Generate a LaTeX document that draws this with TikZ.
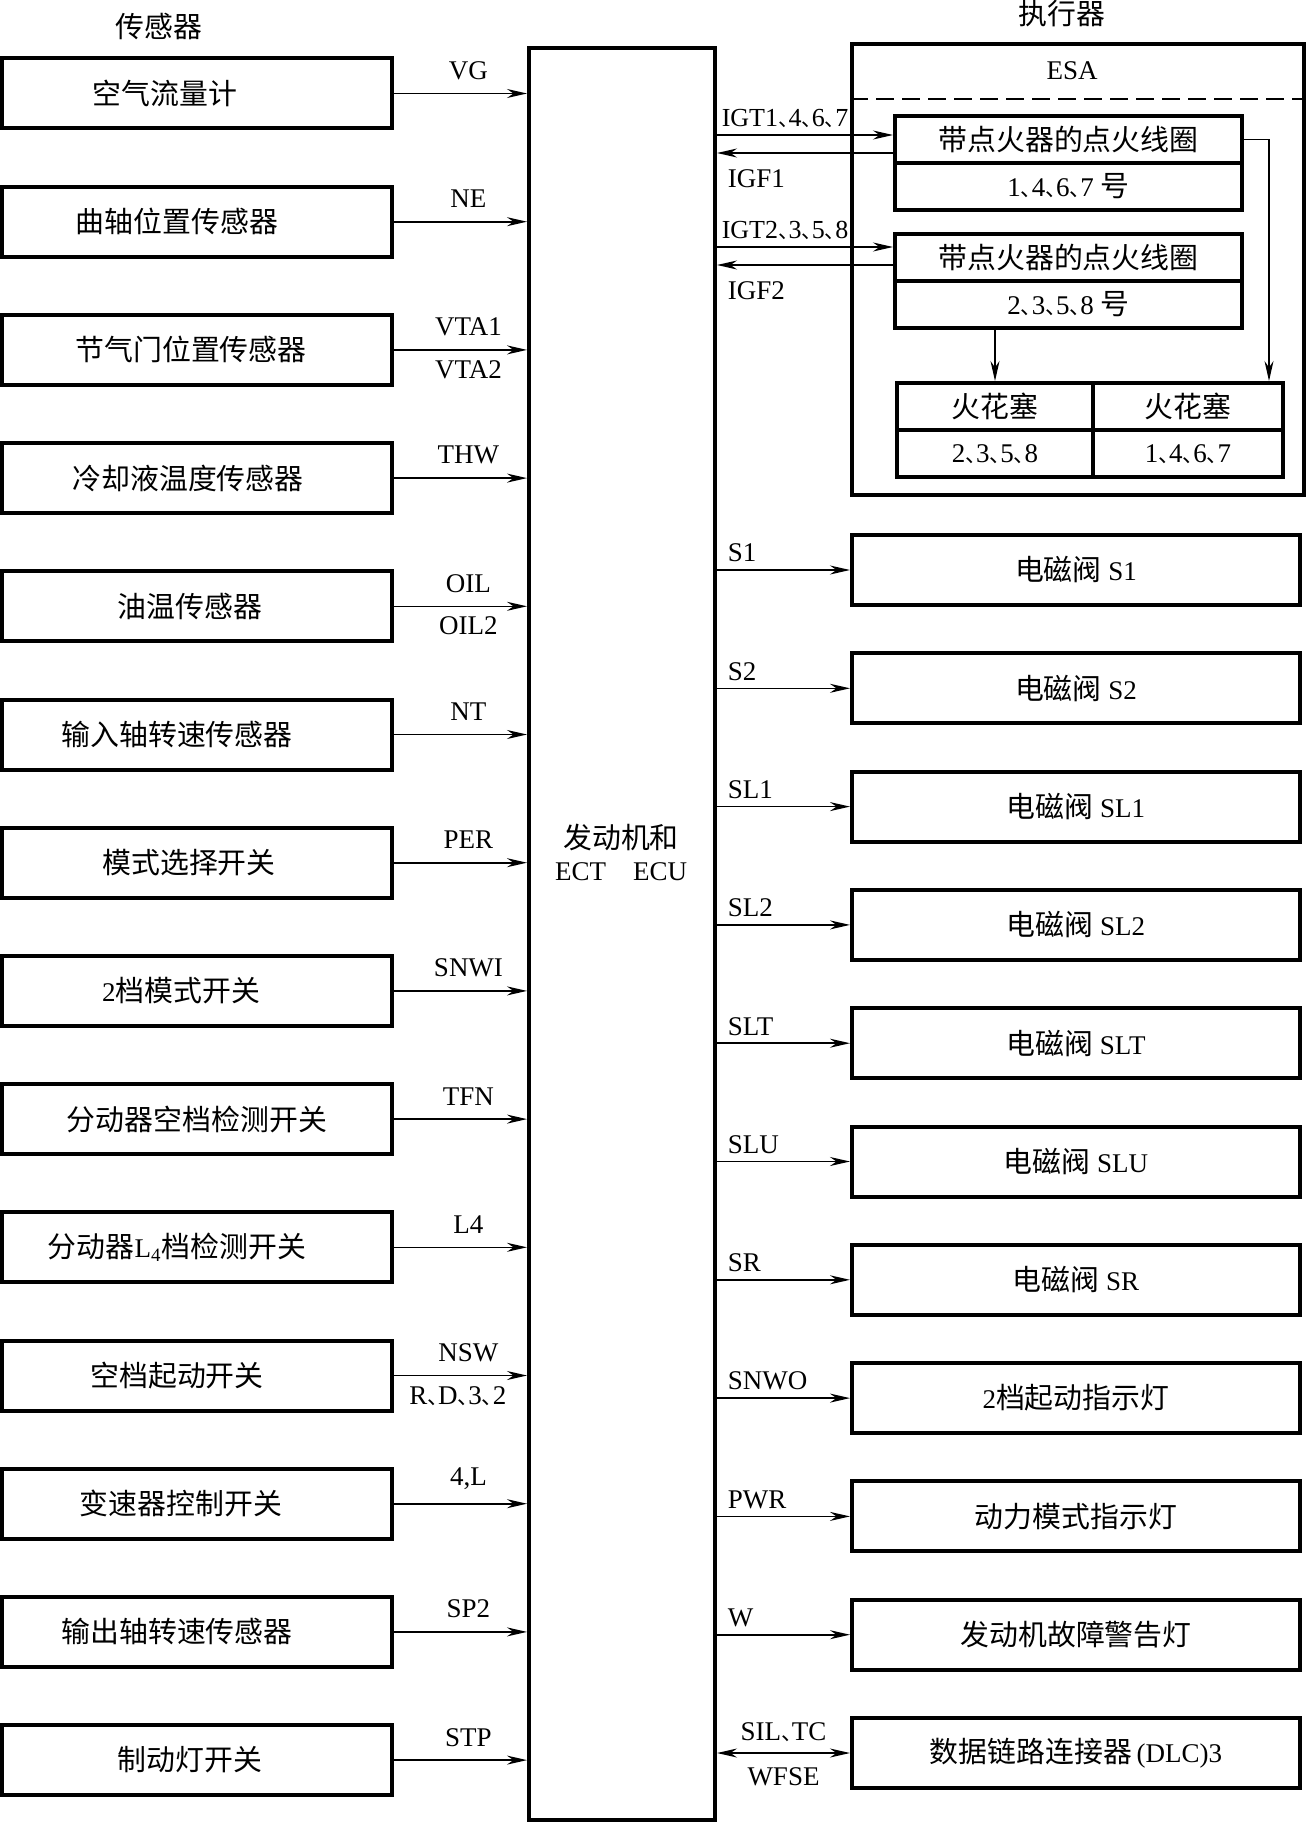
\documentclass[tikz,border=0pt]{standalone}
\usepackage{fontspec}
\setmainfont{Liberation Serif}
\newfontfamily\cjk[Scale=1.07]{Noto Sans CJK SC}
\newfontfamily\cjkh[Scale=0.8, RawFeature=+halt]{Noto Sans CJK SC}
\usepackage{tikz}
\usetikzlibrary{arrows.meta, calc}
\newcommand{\dn}{\smash{\cjkh 、}}

\tikzset{
  sensor/.style={draw, line width=2pt, minimum width=195pt, minimum height=35pt, inner sep=0pt,
    execute at begin node={\hspace*{#1}}},
  sensor/.default=0pt,
  actor/.style={draw, line width=2pt, minimum width=224pt, minimum height=35pt, inner sep=0pt},
  cell/.style={draw, line width=2pt, minimum height=23.5pt, inner sep=0pt},
  sig/.style={->, line width=0.8pt},
  sigboth/.style={<->, line width=0.8pt},
  sigthin/.style={->, line width=0.6pt},
  lbl/.style={inner sep=2pt},
  lblup/.style={lbl, pos=0.56, above=4.5pt},
  lbldn/.style={lbl, pos=0.56, below=3pt},
  lblr/.style={lbl, pos=0, anchor=south west, xshift=3pt, yshift=1.5pt},
}

\begin{document}
\begin{tikzpicture}[x=0.5pt, y=-0.5pt, >={Stealth[length=10pt, width=4.5pt]}, font=\fontsize{13.5}{16}\selectfont]
  \useasboundingbox (0,0) rectangle (1306,1825);

  \node (tsens) at (159,26) {\cjk 传感器};
  \node (tact) at (1062,14) {\cjk 执行器};

  \node[draw, line width=2pt, minimum width=93pt, minimum height=886pt] (ecu) at (622,934) {};
  \node[align=center] (ecutxt) at (621,852) {{\cjk 发动机和}\\ECT\quad ECU};

  \node[sensor=-32pt] (s1) at (197,93.5) {\cjk 空气流量计};
  \node[sensor=-20pt] (s2) at (197,221.7) {\cjk 曲轴位置传感器};
  \node[sensor=-6pt] (s3) at (197,349.9) {\cjk 节气门位置传感器};
  \node[sensor=-9pt] (s4) at (197,478.1) {\cjk 冷却液温度传感器};
  \node[sensor=-7pt] (s5) at (197,606.3) {\cjk 油温传感器};
  \node[sensor=-20pt] (s6) at (197,734.5) {\cjk 输入轴转速传感器};
  \node[sensor=-8pt] (s7) at (197,862.7) {\cjk 模式选择开关};
  \node[sensor=-16pt] (s8) at (197,990.9) {2{\cjk 档模式开关}};
  \node[sensor] (s9) at (197,1119.1) {\cjk 分动器空档检测开关};
  \node[sensor=-20pt] (s10) at (197,1247.3) {{\cjk 分动器}L\textsubscript{4}{\cjk 档检测开关}};
  \node[sensor=-20pt] (s11) at (197,1375.5) {\cjk 空档起动开关};
  \node[sensor=-16pt] (s12) at (197,1503.7) {\cjk 变速器控制开关};
  \node[sensor=-20pt] (s13) at (197,1631.9) {\cjk 输出轴转速传感器};
  \node[sensor=-7pt] (s14) at (197,1760.1) {\cjk 制动灯开关};

  \draw[sig] (s1.east) -- (s1.east -| ecu.west) node[lblup] (lvg) {VG};
  \draw[sig] (s2.east) -- (s2.east -| ecu.west) node[lblup] (lne) {NE};
  \draw[sig] (s3.east) -- (s3.east -| ecu.west) node[lblup] (lvta1) {VTA1} node[lbldn] (lvta2) {VTA2};
  \draw[sig] (s4.east) -- (s4.east -| ecu.west) node[lblup] (lthw) {THW};
  \draw[sig] (s5.east) -- (s5.east -| ecu.west) node[lblup] (loil) {OIL} node[lbldn] (loil2) {OIL2};
  \draw[sig] (s6.east) -- (s6.east -| ecu.west) node[lblup] (lnt) {NT};
  \draw[sig] (s7.east) -- (s7.east -| ecu.west) node[lblup] (lper) {PER};
  \draw[sig] (s8.east) -- (s8.east -| ecu.west) node[lblup] (lsnwi) {SNWI};
  \draw[sig] (s9.east) -- (s9.east -| ecu.west) node[lblup] (ltfn) {TFN};
  \draw[sig] (s10.east) -- (s10.east -| ecu.west) node[lblup] (ll4) {L4};
  \draw[sig] (s11.east) -- (s11.east -| ecu.west) node[lblup] (lnsw) {NSW} node[lbldn, pos=0.48] (lrd) {R\dn D\dn 3\dn 2};
  \draw[sig] (s12.east) -- (s12.east -| ecu.west) node[lblup] (l4l) {4,L};
  \draw[sig] (s13.east) -- (s13.east -| ecu.west) node[lblup] (lsp2) {SP2};
  \draw[sig] (s14.east) -- (s14.east -| ecu.west) node[lblup] (lstp) {STP};

  \node[draw, line width=1.8pt, minimum width=226pt, minimum height=225.5pt] (esa) at (1078,269.5) {};
  \node (esatxt) at (1072,71) {ESA};
  \coordinate (dashy) at (0,99);
  \draw[line width=0.6pt, dash pattern=on 9pt off 4pt] (esa.west |- dashy) -- (esa.east |- dashy);

  \node[cell, minimum width=173.5pt] (c1a) at (1068.5,139.5) {\cjk 带点火器的点火线圈};
  \node[cell, minimum width=173.5pt] (c1b) at (1068.5,186.5) {1\dn 4\dn 6\dn 7 {\cjk 号}};
  \node[cell, minimum width=173.5pt] (c2a) at (1068.5,257) {\cjk 带点火器的点火线圈};
  \node[cell, minimum width=173.5pt] (c2b) at (1068.5,304) {2\dn 3\dn 5\dn 8 {\cjk 号}};
  \node[cell, minimum width=98pt] (pa) at (995,406.5) {\cjk 火花塞};
  \node[cell, minimum width=98pt] (pab) at (995,453.5) {2\dn 3\dn 5\dn 8};
  \node[cell, minimum width=95pt] (pb) at (1188,406.5) {\cjk 火花塞};
  \node[cell, minimum width=95pt] (pbb) at (1188,453.5) {1\dn 4\dn 6\dn 7};

  \coordinate (igt1) at ($(c1a.west)+(0,-4.5)$);
  \coordinate (igf1) at ($(c1a.west)+(0,13.5)$);
  \coordinate (igt2) at ($(c2a.west)+(0,-10)$);
  \coordinate (igf2) at ($(c2a.west)+(0,8)$);
  \draw[sig] (ecu.east |- igt1) -- (igt1) node[lblr, xshift=-3pt, font=\fontsize{13}{15}\selectfont] (ligt1) {IGT1\dn 4\dn 6\dn 7};
  \draw[sig] (igf1) -- (ecu.east |- igf1) node[lbl, pos=1, anchor=north west, xshift=3pt, yshift=-6pt] (ligf1) {IGF1};
  \draw[sig] (ecu.east |- igt2) -- (igt2) node[lblr, xshift=-3pt, font=\fontsize{13}{15}\selectfont] (ligt2) {IGT2\dn 3\dn 5\dn 8};
  \draw[sig] (igf2) -- (ecu.east |- igf2) node[lbl, pos=1, anchor=north west, xshift=3pt, yshift=-6pt] (ligf2) {IGF2};

  \coordinate (pbin) at ($(pb.north east)+(-16,0)$);
  \draw[sigthin] (pa.north |- c2b.south) -- (pa.north);
  \draw[sigthin] (c1a.east) -| (pbin);

  \node[actor] (a1) at (1076,570) {{\cjk 电磁阀} S1};
  \node[actor] (a2) at (1076,688.3) {{\cjk 电磁阀} S2};
  \node[actor] (a3) at (1076,806.6) {{\cjk 电磁阀} SL1};
  \node[actor] (a4) at (1076,924.9) {{\cjk 电磁阀} SL2};
  \node[actor] (a5) at (1076,1043.2) {{\cjk 电磁阀} SLT};
  \node[actor] (a6) at (1076,1161.5) {{\cjk 电磁阀} SLU};
  \node[actor] (a7) at (1076,1279.8) {{\cjk 电磁阀} SR};
  \node[actor] (a8) at (1076,1398.1) {2{\cjk 档起动指示灯}};
  \node[actor] (a9) at (1076,1516.4) {\cjk 动力模式指示灯};
  \node[actor] (a10) at (1076,1634.7) {\cjk 发动机故障警告灯};
  \node[actor] (a11) at (1076,1753) {{\cjk 数据链路连接器}\,(DLC)3};

  \draw[sig] (a1.west -| ecu.east) -- (a1.west) node[lblr] (ls1) {S1};
  \draw[sig] (a2.west -| ecu.east) -- (a2.west) node[lblr] (ls2) {S2};
  \draw[sig] (a3.west -| ecu.east) -- (a3.west) node[lblr] (lsl1) {SL1};
  \draw[sig] (a4.west -| ecu.east) -- (a4.west) node[lblr] (lsl2) {SL2};
  \draw[sig] (a5.west -| ecu.east) -- (a5.west) node[lblr] (lslt) {SLT};
  \draw[sig] (a6.west -| ecu.east) -- (a6.west) node[lblr] (lslu) {SLU};
  \draw[sig] (a7.west -| ecu.east) -- (a7.west) node[lblr] (lsr) {SR};
  \draw[sig] (a8.west -| ecu.east) -- (a8.west) node[lblr] (lsnwo) {SNWO};
  \draw[sig] (a9.west -| ecu.east) -- (a9.west) node[lblr] (lpwr) {PWR};
  \draw[sig] (a10.west -| ecu.east) -- (a10.west) node[lblr] (lw) {W};
  \draw[sigboth] (a11.west -| ecu.east) -- (a11.west) node[lbl, midway, above=3.5pt] (lsil) {SIL\dn TC} node[lbl, midway, below=5pt] (lwfse) {WFSE};
\end{tikzpicture}
\end{document}
